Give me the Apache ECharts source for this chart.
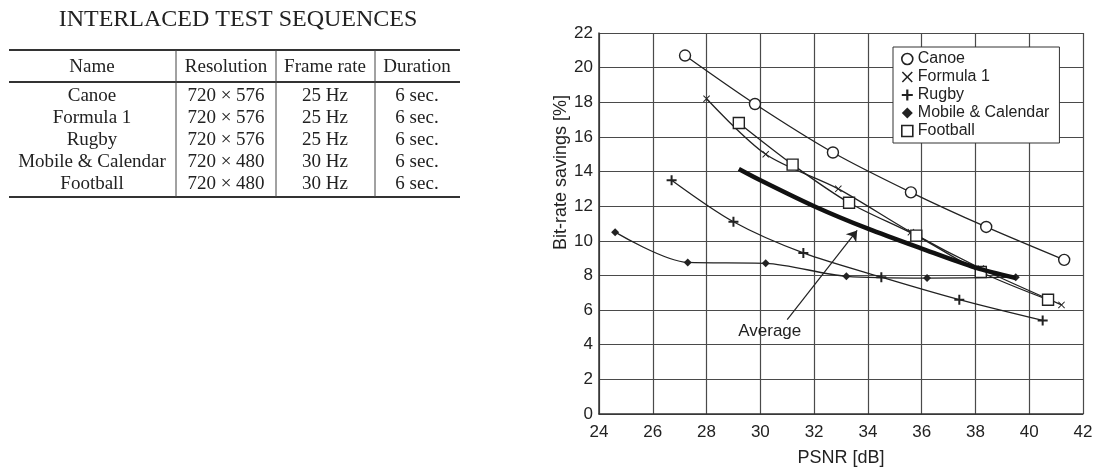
<!DOCTYPE html>
<html>
<head>
<meta charset="utf-8">
<script src="https://cdn.jsdelivr.net/npm/echarts@6/dist/echarts.min.js"></script>
<style>
  html, body { margin: 0; padding: 0; background: #fff; }
  #main { width: 1096px; height: 472px; }
</style>
</head>
<body>
<div id="main"></div>
<script>
// table on the left
const tableTitle = 'INTERLACED TEST SEQUENCES'
const tableHeader = ['Name', 'Resolution', 'Frame rate', 'Duration']
const seqNames = ['Canoe', 'Formula 1', 'Rugby', 'Mobile & Calendar', 'Football']
const seqResolution = ['720 \u00d7 576', '720 \u00d7 576', '720 \u00d7 576', '720 \u00d7 480', '720 \u00d7 480']
const seqFrameRate = ['25 Hz', '25 Hz', '25 Hz', '30 Hz', '30 Hz']
const seqDuration = ['6 sec.', '6 sec.', '6 sec.', '6 sec.', '6 sec.']

// chart data: PSNR [dB] and bit-rate savings [%]
const canoePsnr = [27.2, 29.8, 32.7, 35.6, 38.4, 41.3]
const canoeSave = [20.7, 17.9, 15.1, 12.8, 10.8, 8.9]
const formulaPsnr = [28.0, 30.2, 32.9, 35.6, 38.2, 41.2]
const formulaSave = [18.2, 15.0, 13.0, 10.5, 8.4, 6.3]
const rugbyPsnr = [26.7, 29.0, 31.6, 34.5, 37.4, 40.5]
const rugbySave = [13.5, 11.1, 9.3, 7.9, 6.6, 5.4]
const mobilePsnr = [24.6, 27.3, 30.2, 33.2, 36.2, 39.5]
const mobileSave = [10.5, 8.75, 8.7, 7.95, 7.85, 7.9]
const footballPsnr = [29.2, 31.2, 33.3, 35.8, 38.2, 40.7]
const footballSave = [16.8, 14.4, 12.2, 10.3, 8.2, 6.6]
const averagePsnr = [29.2, 30.0, 32.0, 34.0, 36.0, 38.0, 39.5]
const averageSave = [14.15, 13.5, 12.0, 10.7, 9.55, 8.45, 7.85]

// "Average" note: arrow tail, arrow head, text position
const noteTail = [31.0, 5.45]
const noteHead = [33.6, 10.6]
const noteText = [30.35, 4.75]

const pairs = (xs, ys) => xs.map((x, i) => [x, ys[i]])

const INK = '#222'
const plusPath = 'path://M4,0H6V4H10V6H6V10H4V6H0V4H4Z'
const crossPath = 'path://M1,0L5,4L9,0L10,1L6,5L10,9L9,10L5,6L1,10L0,9L4,5L0,1Z'

// table drawn with graphic elements
const serif = '"Liberation Serif", "Times New Roman", serif'
const colX = [92, 226, 325, 417]
const rowY = [96, 118, 140, 162, 184]
const graphics = []
graphics.push({
  type: 'text', x: 238, y: 20,
  style: { text: tableTitle, font: '24px ' + serif, fill: INK, textAlign: 'center', textVerticalAlign: 'middle' }
})
const hline = (y, w) => ({ type: 'line', shape: { x1: 9, y1: y, x2: 460, y2: y }, style: { stroke: '#333', lineWidth: w } })
graphics.push(hline(50, 2), hline(82, 2), hline(197, 2))
;[176, 276, 375].forEach(x => {
  graphics.push({ type: 'line', shape: { x1: x, y1: 50, x2: x, y2: 197 }, style: { stroke: '#444', lineWidth: 1 } })
})
tableHeader.forEach((h, c) => {
  graphics.push({
    type: 'text', x: colX[c], y: 67,
    style: { text: h, font: '19px ' + serif, fill: INK, textAlign: 'center', textVerticalAlign: 'middle' }
  })
})
const cols = [seqNames, seqResolution, seqFrameRate, seqDuration]
cols.forEach((col, c) => {
  col.forEach((v, r) => {
    graphics.push({
      type: 'text', x: colX[c], y: rowY[r],
      style: { text: v, font: '19px ' + serif, fill: INK, textAlign: 'center', textVerticalAlign: 'middle' }
    })
  })
})

const main = document.getElementById('main')
var myChart = echarts.init(main)

function lineSeries(name, data, symbol, size, filled) {
  return {
    name: name,
    type: 'line',
    data: data,
    smooth: 0.3,
    symbol: symbol,
    symbolSize: size,
    showSymbol: true,
    lineStyle: { color: INK, width: 1.3 },
    itemStyle: filled
      ? { color: INK, borderColor: INK, borderWidth: 0 }
      : { color: '#fff', borderColor: INK, borderWidth: 1.4 },
    z: 3
  }
}

myChart.setOption({
  animation: false,
  backgroundColor: '#fff',
  textStyle: { fontFamily: '"Liberation Sans", Arial, sans-serif' },
  graphic: graphics,
  grid: { left: 599, right: 13, top: 33, bottom: 58 },
  legend: {
    orient: 'vertical',
    left: 893,
    top: 47,
    padding: [4, 10, 4, 8],
    itemGap: 2,
    itemWidth: 11,
    itemHeight: 11,
    backgroundColor: '#fff',
    borderColor: '#333',
    borderWidth: 1,
    textStyle: { fontSize: 16, color: INK },
    data: [
      { name: 'Canoe', icon: 'circle', itemStyle: { color: '#fff', borderColor: INK, borderWidth: 1.6 } },
      { name: 'Formula 1', icon: crossPath, itemStyle: { color: INK, borderWidth: 0 } },
      { name: 'Rugby', icon: plusPath, itemStyle: { color: INK, borderWidth: 0 } },
      { name: 'Mobile & Calendar', icon: 'diamond', itemStyle: { color: INK, borderWidth: 0 } },
      { name: 'Football', icon: 'rect', itemStyle: { color: '#fff', borderColor: INK, borderWidth: 1.6 } }
    ]
  },
  xAxis: {
    type: 'value',
    min: 24,
    max: 42,
    interval: 2,
    name: 'PSNR [dB]',
    nameLocation: 'middle',
    nameGap: 35,
    nameTextStyle: { fontSize: 18, color: INK },
    axisLine: { lineStyle: { color: '#333', width: 1.5 } },
    axisTick: { show: false },
    axisLabel: { fontSize: 17, color: INK, margin: 10 },
    splitLine: { lineStyle: { color: '#4a4a4a', width: 1.2 } }
  },
  yAxis: {
    type: 'value',
    min: 0,
    max: 22,
    interval: 2,
    name: 'Bit-rate savings [%]',
    nameLocation: 'middle',
    nameGap: 26,
    nameTextStyle: { fontSize: 18, color: INK, padding: [0, 0, 0, 102] },
    axisLine: { show: true, lineStyle: { color: '#333', width: 1.5 } },
    axisTick: { show: false },
    axisLabel: { fontSize: 17, color: INK, margin: 6 },
    splitLine: { lineStyle: { color: '#4a4a4a', width: 1.2 } }
  },
  series: [
    lineSeries('Canoe', pairs(canoePsnr, canoeSave), 'circle', 11, false),
    lineSeries('Formula 1', pairs(formulaPsnr, formulaSave), crossPath, 7, true),
    lineSeries('Rugby', pairs(rugbyPsnr, rugbySave), plusPath, 10, true),
    lineSeries('Mobile & Calendar', pairs(mobilePsnr, mobileSave), 'diamond', 8, true),
    lineSeries('Football', pairs(footballPsnr, footballSave), 'rect', 11, false),
    {
      name: 'Average',
      type: 'line',
      data: pairs(averagePsnr, averageSave),
      smooth: 0.3,
      showSymbol: false,
      symbol: 'none',
      lineStyle: { color: '#111', width: 4.5 },
      z: 4,
      markLine: {
        silent: true,
        symbol: ['none', 'arrow'],
        symbolSize: 10,
        label: { show: false },
        lineStyle: { color: INK, width: 1.2, type: 'solid' },
        data: [[{ coord: noteTail }, { coord: noteHead }]]
      },
      markPoint: {
        silent: true,
        symbol: 'circle',
        symbolSize: 0,
        label: { show: true, formatter: 'Average', fontSize: 17, color: INK, position: 'inside' },
        data: [{ coord: noteText }]
      }
    }
  ]
})
</script>
</body>
</html>
